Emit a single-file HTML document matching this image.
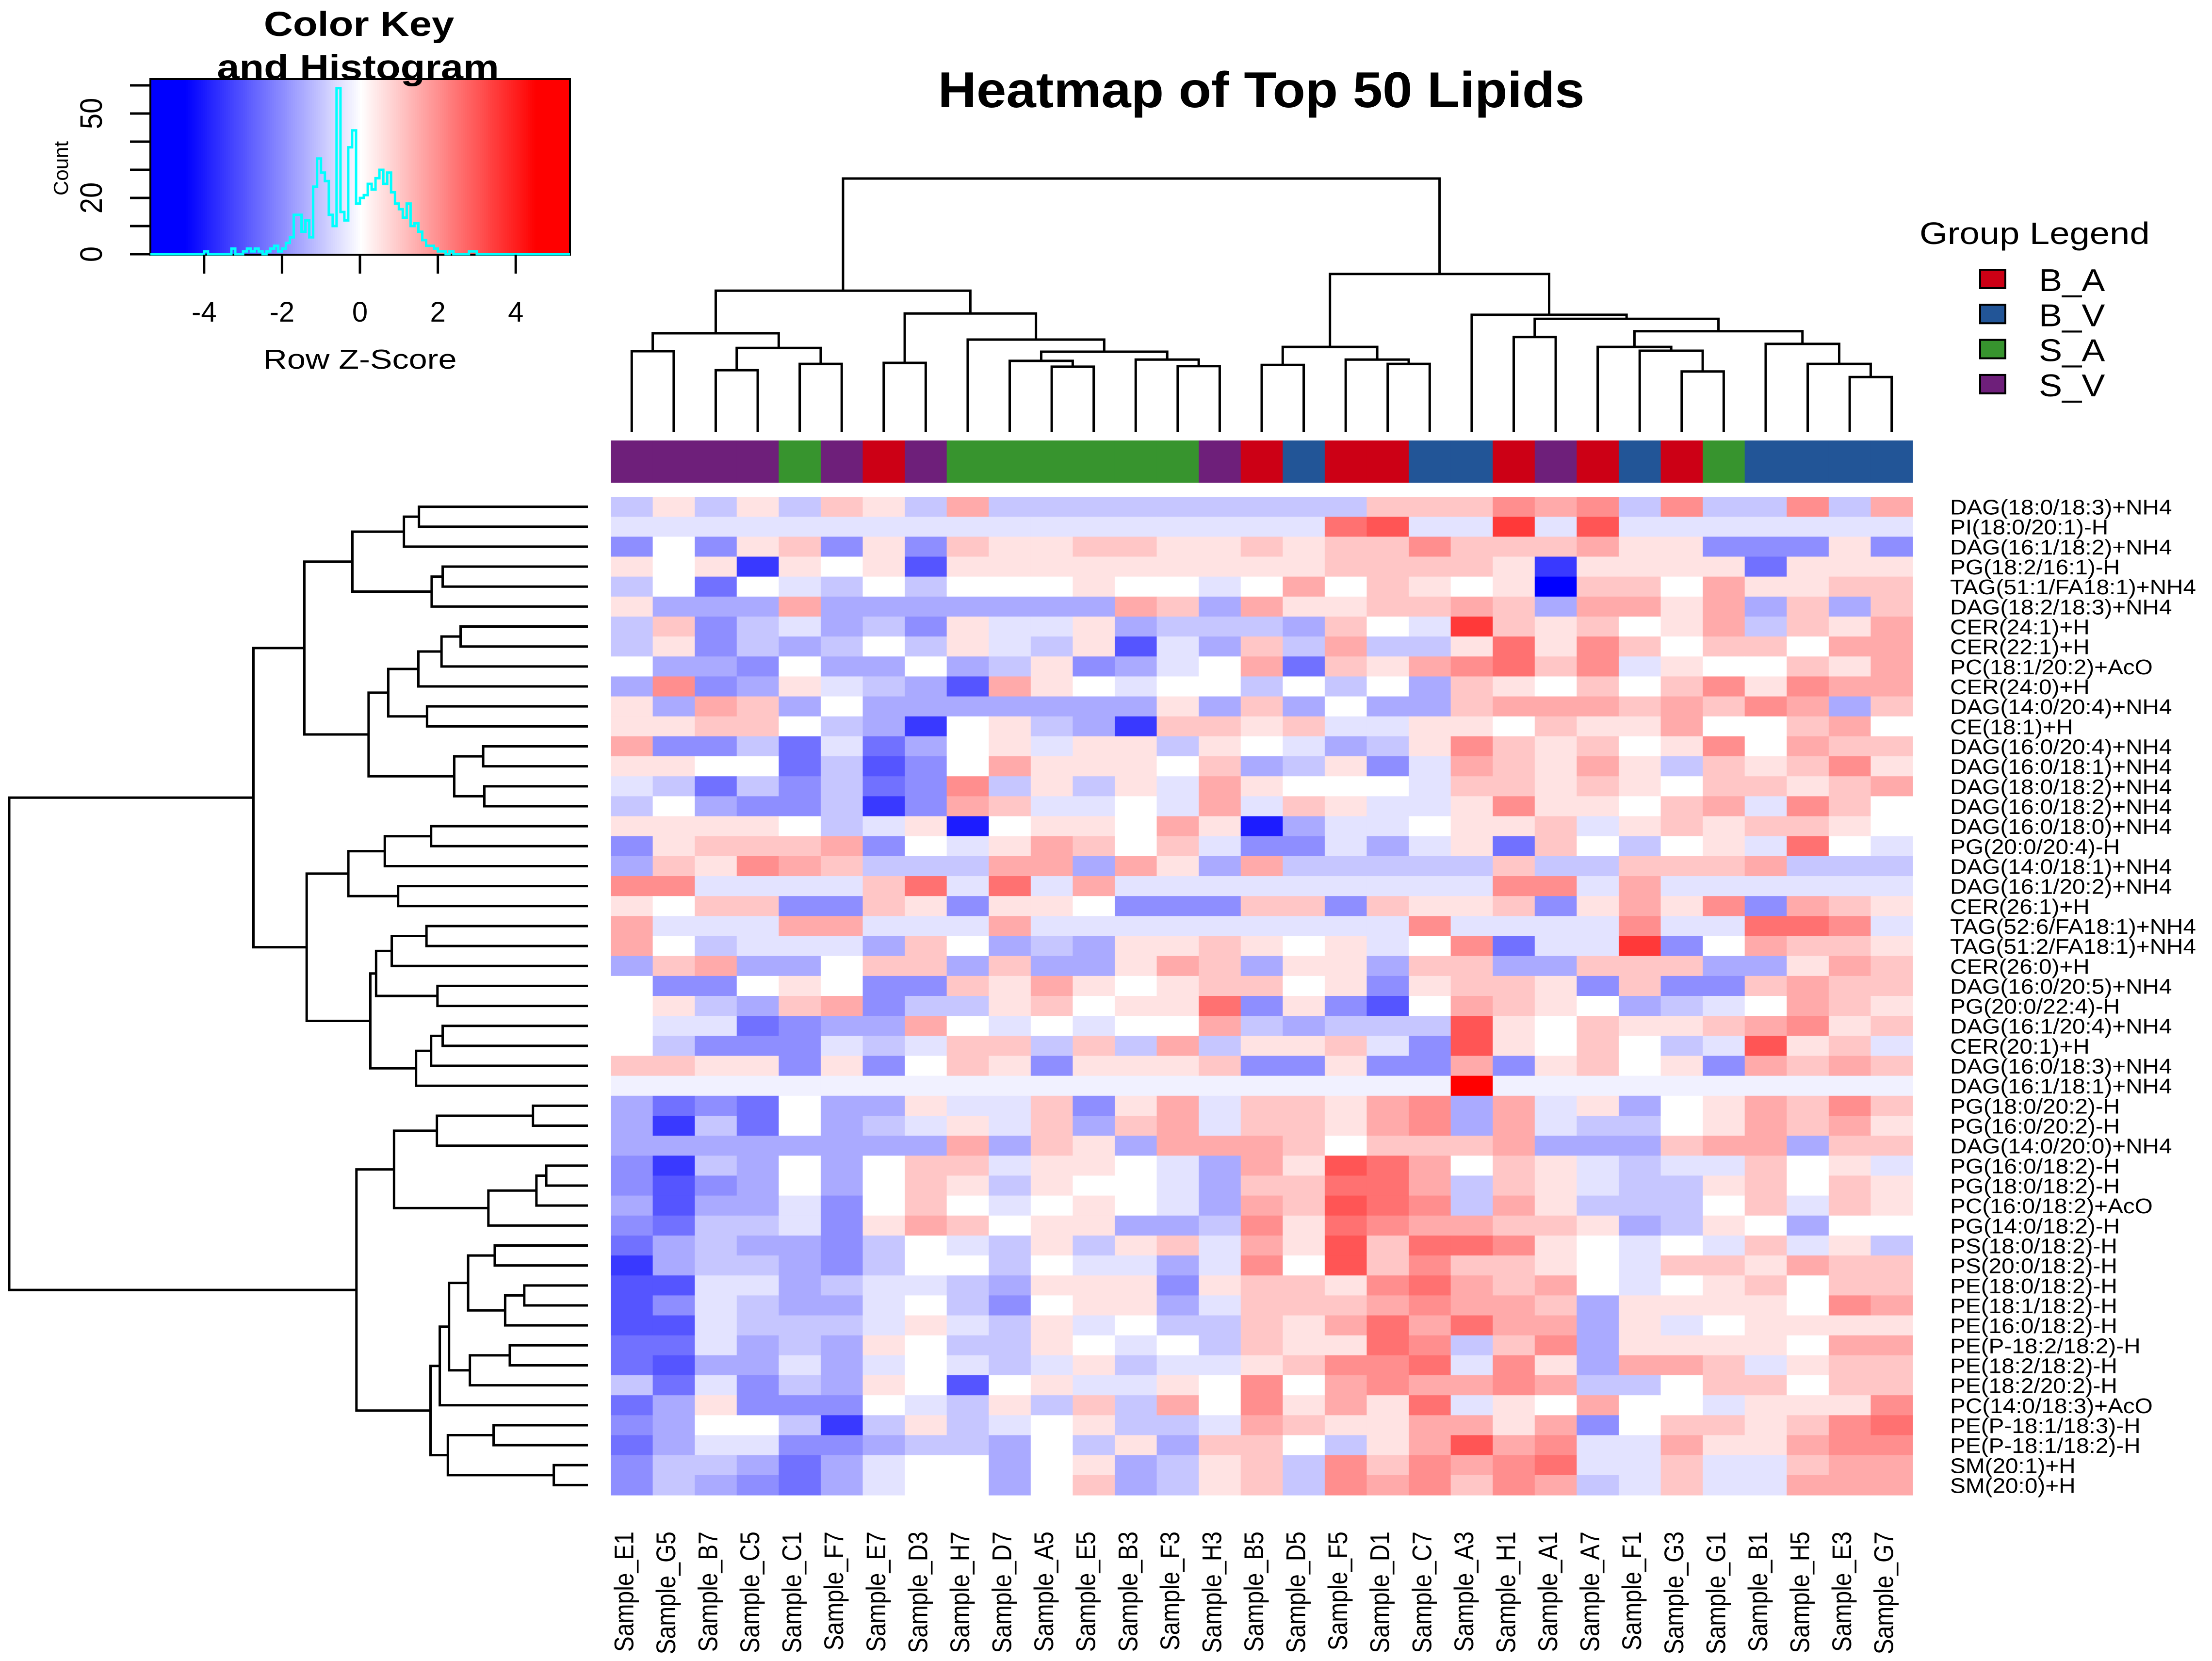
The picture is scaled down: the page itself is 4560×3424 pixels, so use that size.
<!DOCTYPE html>
<html><head><meta charset="utf-8"><title>Heatmap of Top 50 Lipids</title>
<style>html,body{margin:0;padding:0;background:#fff}svg{display:block}text{font-family:"Liberation Sans",Arial,sans-serif}</style>
</head><body>
<svg id="chart" xmlns="http://www.w3.org/2000/svg" width="4560" height="3424" viewBox="0 0 4560 3424">
<rect x="0" y="0" width="4560" height="3424" fill="#fff"/>
<g id="key"></g>
<text transform="translate(2600,221) scale(1.06,1)" text-anchor="middle" font-size="104" font-weight="bold">Heatmap of Top 50 Lipids</text>
<g id="coldendro"></g>
<g id="colbar"></g>
<g id="rowdendro"></g>
<g id="cells"></g>
<g id="rowlabels"></g>
<g id="collabels"></g>
<g id="legend"></g>
</svg>
<script>
const rowLabels=["DAG(18:0/18:3)+NH4","PI(18:0/20:1)-H","DAG(16:1/18:2)+NH4","PG(18:2/16:1)-H","TAG(51:1/FA18:1)+NH4","DAG(18:2/18:3)+NH4","CER(24:1)+H","CER(22:1)+H","PC(18:1/20:2)+AcO","CER(24:0)+H","DAG(14:0/20:4)+NH4","CE(18:1)+H","DAG(16:0/20:4)+NH4","DAG(16:0/18:1)+NH4","DAG(18:0/18:2)+NH4","DAG(16:0/18:2)+NH4","DAG(16:0/18:0)+NH4","PG(20:0/20:4)-H","DAG(14:0/18:1)+NH4","DAG(16:1/20:2)+NH4","CER(26:1)+H","TAG(52:6/FA18:1)+NH4","TAG(51:2/FA18:1)+NH4","CER(26:0)+H","DAG(16:0/20:5)+NH4","PG(20:0/22:4)-H","DAG(16:1/20:4)+NH4","CER(20:1)+H","DAG(16:0/18:3)+NH4","DAG(16:1/18:1)+NH4","PG(18:0/20:2)-H","PG(16:0/20:2)-H","DAG(14:0/20:0)+NH4","PG(16:0/18:2)-H","PG(18:0/18:2)-H","PC(16:0/18:2)+AcO","PG(14:0/18:2)-H","PS(18:0/18:2)-H","PS(20:0/18:2)-H","PE(18:0/18:2)-H","PE(18:1/18:2)-H","PE(16:0/18:2)-H","PE(P-18:2/18:2)-H","PE(18:2/18:2)-H","PE(18:2/20:2)-H","PC(14:0/18:3)+AcO","PE(P-18:1/18:3)-H","PE(P-18:1/18:2)-H","SM(20:1)+H","SM(20:0)+H"];
const colLabels=["Sample_E1","Sample_G5","Sample_B7","Sample_C5","Sample_C1","Sample_F7","Sample_E7","Sample_D3","Sample_H7","Sample_D7","Sample_A5","Sample_E5","Sample_B3","Sample_F3","Sample_H3","Sample_B5","Sample_D5","Sample_F5","Sample_D1","Sample_C7","Sample_A3","Sample_H1","Sample_A1","Sample_A7","Sample_F1","Sample_G3","Sample_G1","Sample_B1","Sample_H5","Sample_E3","Sample_G7"];
const colGroups=["S_V","S_V","S_V","S_V","S_A","S_V","B_A","S_V","S_A","S_A","S_A","S_A","S_A","S_A","S_V","B_A","B_V","B_A","B_A","B_V","B_V","B_A","S_V","B_A","B_V","B_A","S_A","B_V","B_V","B_V","B_V"];
const groupNames=["B_A","B_V","S_A","S_V"];
const groupColors=["#cc0015","#225597","#37942e","#6e1f7a"];
// heat levels: z-score = level * 0.5
const zLevels=[
[-2,1,-2,1,-2,2,1,-2,3,-2,-2,-2,-2,-2,-2,-2,-2,-2,2,2,2,4,3,4,-2,4,-2,-2,4,-2,3],
[-1,-1,-1,-1,-1,-1,-1,-1,-1,-1,-1,-1,-1,-1,-1,-1,-1,5,6,-1,-1,7,-1,6,-1,-1,-1,-1,-1,-1,-1],
[-4,0,-4,1,2,-4,1,-4,2,1,1,2,2,1,1,2,1,2,2,4,2,2,2,3,1,1,-4,-4,-4,1,-4],
[1,0,1,-7,1,0,1,-6,1,1,1,1,1,1,1,1,1,2,2,2,2,1,-7,1,1,1,1,-5,1,1,1],
[-2,0,-5,0,-1,-2,0,-2,0,0,0,1,0,0,-1,0,3,0,2,1,0,1,-9,2,2,0,3,1,1,2,2],
[1,-3,-3,-3,3,-3,-3,-3,-3,-3,-3,-3,3,2,-3,3,1,1,2,2,3,2,-3,3,3,1,3,-3,2,-3,2],
[-2,2,-4,-2,-1,-3,-2,-4,1,-1,-1,1,-3,-2,-2,-2,-3,2,0,-1,7,2,1,2,0,1,3,-2,2,1,3],
[-2,1,-4,-2,-3,-2,0,-2,1,-1,-2,1,-6,-1,-3,2,-2,3,-2,-2,1,5,1,4,2,0,2,2,0,3,3],
[0,-3,-3,-4,0,-3,-3,0,-3,-2,1,-4,-3,-1,0,3,-5,2,1,3,4,5,2,4,-1,1,0,0,2,1,3],
[-3,4,-4,-3,1,-1,-2,-3,-6,3,1,0,-1,0,0,-2,0,-2,0,-3,2,1,0,2,0,2,4,1,4,3,3],
[1,-3,3,2,-3,0,-3,-3,-3,-3,-3,-3,-3,1,-3,2,-3,0,-3,-3,2,3,3,3,2,3,2,4,3,-3,2],
[1,1,2,2,0,-2,-3,-7,0,1,-2,-3,-7,2,2,1,2,-1,-1,1,1,0,2,1,1,3,0,0,2,3,0],
[3,-4,-4,-2,-5,-1,-5,-3,0,1,-1,1,1,-2,1,0,-1,-3,-2,1,4,2,1,2,0,1,4,0,3,2,2],
[1,1,0,0,-5,-2,-6,-4,0,3,1,1,1,0,2,-3,-2,1,-4,-1,3,2,1,3,1,-2,2,1,2,4,1],
[-1,-2,-5,-2,-4,-2,-5,-4,4,-2,1,-2,1,-1,3,1,0,0,0,-1,2,2,1,2,1,0,2,2,1,2,3],
[-2,0,-3,-4,-4,-2,-7,-4,3,2,-1,-1,0,-1,3,-1,2,1,-1,-1,1,4,1,1,0,2,3,-1,4,2,0],
[1,1,1,1,0,-2,-1,1,-8,0,1,1,0,3,1,-8,-3,-1,-1,0,1,1,2,-1,1,2,1,2,2,1,0],
[-4,1,2,2,2,3,-4,0,-1,1,3,2,0,2,-1,-4,-4,-1,-3,-1,1,-5,2,0,-2,0,1,-1,5,0,-1],
[-3,2,1,4,3,2,-2,-2,-2,3,3,-3,3,1,-3,3,-2,-2,-2,-2,-2,2,-2,-2,2,2,2,3,-2,-2,-2],
[4,4,-1,-1,-1,-1,2,5,-1,5,-1,3,-1,-1,-1,-1,-1,-1,-1,-1,-1,4,4,-1,3,-1,-1,-1,-1,-1,-1],
[1,0,2,2,-4,-4,2,1,-4,1,1,0,-4,-4,-4,2,2,-4,2,1,1,2,-4,1,3,1,4,-4,3,2,1],
[3,-1,-1,-1,3,3,-1,-1,-1,3,-1,-1,-1,-1,-1,-1,-1,-1,-1,4,-1,-1,-1,-1,4,-1,-1,5,5,4,-1],
[3,0,-2,-1,-1,-1,-3,2,0,-3,-2,-3,1,1,2,1,0,1,-1,0,4,-5,-1,-1,7,-4,0,3,2,2,1],
[-3,2,3,-3,-3,0,2,2,-3,2,-3,-3,1,3,2,-3,1,1,-3,2,2,-3,-3,2,2,2,-3,-3,1,3,2],
[0,-4,-4,0,1,0,-4,-4,2,1,3,1,0,1,2,2,0,1,-4,1,2,2,1,-4,2,-4,-4,2,3,2,2],
[0,1,-2,-3,2,3,-4,-2,-2,1,2,0,1,1,5,-4,1,-4,-6,0,3,2,1,0,-3,-2,-1,0,3,2,1],
[0,-1,-1,-5,-4,-3,-3,3,0,-1,0,-1,0,0,3,-2,-3,-2,-2,-2,6,1,0,2,1,1,2,3,4,1,2],
[0,-2,-4,-4,-4,-1,-2,-1,2,2,-2,2,-2,3,-2,1,1,2,-1,-4,6,1,0,2,0,-2,-1,6,1,2,-1],
[2,2,1,1,-4,1,-4,0,2,1,-4,1,1,1,2,-4,-4,1,-4,-4,3,-4,1,2,0,1,-4,3,2,3,2],
[-0.5,-0.5,-0.5,-0.5,-0.5,-0.5,-0.5,-0.5,-0.5,-0.5,-0.5,-0.5,-0.5,-0.5,-0.5,-0.5,-0.5,-0.5,-0.5,-0.5,9,-0.5,-0.5,-0.5,-0.5,-0.5,-0.5,-0.5,-0.5,-0.5,-0.5],
[-3,-5,-4,-5,0,-3,-3,1,-1,-1,2,-4,1,3,-1,2,2,1,3,4,-3,3,-1,1,-3,0,1,3,2,4,2],
[-3,-7,-2,-5,0,-3,-2,-1,1,-1,2,-3,2,3,-1,2,2,1,3,4,-3,3,-1,-2,-2,0,1,3,2,3,1],
[-3,-3,-3,-3,-3,-3,-3,-3,3,-3,2,1,-3,3,3,3,2,0,2,2,2,3,-3,-3,-3,2,3,3,-3,2,2],
[-4,-7,-2,-3,0,-3,0,2,2,-1,1,1,0,-1,-3,3,1,6,5,3,0,2,1,-1,-2,-1,-1,2,0,1,-1],
[-4,-6,-4,-3,0,-3,0,2,1,-2,1,0,0,-1,-3,2,2,5,5,3,-2,2,1,-1,-2,-2,1,2,0,2,1],
[-3,-6,-3,-3,-1,-4,0,2,0,-1,0,1,0,-1,-3,3,2,6,5,4,-2,3,1,-2,-2,-2,0,2,-1,2,1],
[-4,-5,-2,-2,-1,-4,1,3,2,0,1,1,-3,-3,-2,4,1,5,4,3,3,2,2,1,-3,-2,1,0,-3,0,0],
[-5,-3,-2,-3,-3,-4,-2,0,-1,-2,1,-2,1,2,-1,3,1,6,2,5,5,4,1,0,-1,0,-1,2,-1,1,-2],
[-7,-3,-2,-2,-3,-4,-2,0,0,-2,0,-1,-1,-3,-1,4,0,6,2,4,2,2,1,0,-1,2,2,1,3,2,2],
[-6,-6,-1,-1,-3,-2,-1,-1,-2,-3,1,1,1,-4,1,2,2,1,4,5,3,2,3,0,-1,0,1,2,0,2,2],
[-6,-4,-1,-2,-3,-3,-1,0,-2,-4,0,1,1,-3,-1,2,2,2,3,4,3,3,2,-3,1,1,1,1,0,4,3],
[-6,-6,-1,-2,-2,-2,-1,1,-1,-2,1,-1,0,-2,-2,2,1,3,5,3,5,3,3,-3,1,-1,0,1,1,1,1],
[-5,-5,-1,-3,-2,-3,1,0,-2,-2,1,0,-1,0,-2,2,1,1,5,4,-2,2,4,-3,1,1,1,1,0,3,3],
[-5,-6,-3,-3,-1,-3,-1,0,-1,-2,-1,1,-2,-1,-1,1,2,4,4,5,-1,4,1,-3,3,3,2,-1,1,2,2],
[-2,-5,-1,-4,-2,-3,1,0,-6,0,1,-1,-1,1,0,4,0,3,4,3,3,4,3,-2,-2,0,2,2,0,2,2],
[-5,-3,1,-4,-4,-4,0,-1,-2,1,-2,2,-2,3,0,4,1,3,1,5,-1,1,0,3,0,0,-1,1,1,1,4],
[-4,-3,0,0,-2,-7,-2,1,-2,-1,0,1,-2,-2,-1,3,2,1,1,3,3,1,3,-4,0,2,2,1,2,4,5],
[-5,-3,-1,-1,-4,-4,-3,-2,-2,-3,0,-2,1,-3,2,2,0,-2,1,3,6,3,4,-1,-1,3,1,1,3,4,4],
[-4,-2,-2,-3,-5,-3,-1,0,0,-3,0,1,-3,-2,1,2,-2,4,2,4,3,4,5,-1,-1,2,-1,-1,2,3,3],
[-4,-2,-3,-4,-5,-3,-1,0,0,-3,0,2,-3,-2,1,2,-2,4,3,4,2,4,3,-2,-1,2,-1,-1,3,3,3]
];
// column merges: [a, b, height]; a/b < 100 are leaves, >=100 reference merge (index-100)
const colMerges=[[0,1,3.18],[2,3,2.43],[4,5,2.68],[101,102,3.31],[100,103,3.89],[6,7,2.72],[10,11,2.57],[9,106,2.80],[13,14,2.59],[12,108,2.85],[107,109,3.16],[8,110,3.64],[105,111,4.67],[104,112,5.57],[15,16,2.64],[18,19,2.68],[17,115,2.85],[114,116,3.35],[21,22,3.74],[25,26,2.38],[24,119,3.20],[23,120,3.35],[29,30,2.16],[28,122,2.68],[27,123,3.47],[121,124,3.97],[118,125,4.46],[20,126,4.62],[117,127,6.23],[113,128,10.0]];
const rowMerges=[[0,1,2.92],[100,2,3.18],[3,4,2.51],[102,5,2.70],[101,103,4.07],[6,7,2.20],[105,8,2.53],[106,9,2.93],[10,11,2.78],[107,108,3.45],[12,13,1.81],[14,15,1.79],[110,111,2.31],[109,112,3.79],[104,113,4.90],[16,17,2.71],[115,18,3.51],[19,20,3.28],[116,117,4.14],[21,22,2.79],[119,23,3.39],[24,25,2.60],[120,121,3.66],[26,27,2.51],[123,28,2.71],[124,29,2.97],[122,125,3.76],[118,126,4.86],[114,127,5.78],[30,31,0.95],[129,32,2.61],[33,34,0.72],[131,35,0.89],[132,36,1.72],[130,133,3.35],[37,38,1.61],[39,40,1.10],[136,41,1.43],[135,137,2.07],[42,43,1.35],[139,44,2.04],[138,140,2.40],[141,45,2.56],[46,47,1.63],[48,49,0.59],[143,144,2.42],[142,145,2.72],[134,146,4.00],[128,147,10.0]];
const histStart=-4.0, histStep=0.1;
const histCounts=[1,0,0,0,0,0,0,2,0,0,1,2,1,2,1,0,1,2,3,1,2,4,6,14,14,8,12,6,24,34,29,26,14,10,59,15,12,38,44,18,20,21,25,23,27,30,25,29,22,18,16,13,18,10,11,8,5,3,3,2,1,1,0,1,0,0,0,0,1,1];
const keyTicks=[-4,-2,0,2,4];
const countTicks=[0,10,20,30,40,50,60];
const countLabels=[0,20,50];

const NS="http://www.w3.org/2000/svg";
function mk(tag,attrs,parent){const e=document.createElementNS(NS,tag);for(const k in attrs)e.setAttribute(k,attrs[k]);parent.appendChild(e);return e;}
const HX0=1259,HX1=3943,HY0=1024,HY1=3082;
const nC=colLabels.length,nR=rowLabels.length;
const CW=(HX1-HX0)/nC,RH=(HY1-HY0)/nR;
const xCol=i=>HX0+i*CW, yRow=i=>HY0+i*RH;
function heatColor(level){const z=level*0.5;const t=Math.min(1,Math.abs(z)/4.5);const c=Math.round(255*(1-t));return z<0?`rgb(${c},${c},255)`:`rgb(255,${c},${c})`;}

// cells
const cellsG=document.getElementById('cells');
zLevels.forEach((row,r)=>row.forEach((v,c)=>{
  const e=mk('rect',{x:xCol(c).toFixed(2),y:yRow(r).toFixed(2),width:(CW+0.6).toFixed(2),height:(RH+0.6).toFixed(2),fill:heatColor(v)},cellsG);
  
  
}));
// group bar
const barG=document.getElementById('colbar');
colGroups.forEach((g,c)=>{
  const e=mk('rect',{x:xCol(c).toFixed(2),y:908,width:(CW+0.6).toFixed(2),height:87,fill:groupColors[groupNames.indexOf(g)]},barG);
  
  
});
// row labels
const rlG=document.getElementById('rowlabels');
rowLabels.forEach((t,r)=>{
  const e=mk('text',{transform:`translate(4020,${(yRow(r)+RH/2+16).toFixed(1)}) scale(1.085,1)`,'font-size':44},rlG);
  e.textContent=t;
  
  
});
// col labels
const clG=document.getElementById('collabels');
colLabels.forEach((t,c)=>{
  const e=mk('text',{transform:`translate(${(xCol(c)+CW/2+3).toFixed(1)},3157) rotate(-90) scale(1,1.16)`,'font-size':48,'text-anchor':'end'},clG);
  e.textContent=t;
  
  
});
// dendrograms
function drawDendro(merges,n,parent,leafPos,hToCoord,vertical){
  const pos=[],hgt=[];
  const P=id=>id<100?leafPos(id):pos[id-100];
  const H=id=>id<100?0:hgt[id-100];
  merges.forEach((m,k)=>{
    const [a,b,h]=m;
    const pa=P(a),pb=P(b),ha=hToCoord(H(a)),hb=hToCoord(H(b)),hm=hToCoord(h);
    pos[k]=(pa+pb)/2;hgt[k]=h;
    const d=vertical?`M${pa},${ha}V${hm}H${pb}V${hb}`:`M${ha},${pa}H${hm}V${pb}H${hb}`;
    const e=mk('path',{d:d,fill:'none',stroke:'#000','stroke-width':5,'stroke-linecap':'butt','stroke-linejoin':'miter'},parent);
    
    
  });
}
drawDendro(colMerges,nC,document.getElementById('coldendro'),i=>xCol(i)+CW/2,h=>890-h*52.2,true);
drawDendro(rowMerges,nR,document.getElementById('rowdendro'),i=>yRow(i)+RH/2,h=>1212-h*119.3,false);

// legend
const lg=document.getElementById('legend');
let lt=mk('text',{transform:'translate(3957,503) scale(1.16,1)','font-size':64},lg);
lt.textContent='Group Legend';


groupNames.forEach((g,i)=>{
  const y=556+i*72.3;
  const sw=mk('rect',{x:4082,y:y,width:52,height:38,fill:groupColors[i],stroke:'#000','stroke-width':4},lg);
  
  
  const tx=mk('text',{transform:`translate(4203,${(y+44).toFixed(1)}) scale(1.11,1)`,'font-size':65},lg);
  tx.textContent=g;
  
  
});

// color key
const kg=document.getElementById('key');
const KX0=310,KX1=1175,KY0=163,KY1=525;
const kx=z=>742+80.3*z, ky=c=>524-5.8*c;
const zMin=(KX0-742)/80.3, zMax=(KX1-742)/80.3;
for(let i=0;i<200;i++){
  const z0=zMin+(zMax-zMin)*i/200;
  const e=mk('rect',{x:kx(z0).toFixed(2),y:KY0,width:((KX1-KX0)/200+0.8).toFixed(2),height:KY1-KY0,fill:heatColor(z0*2)},kg);
  
  
}
let bx=mk('rect',{x:KX0,y:KY0,width:KX1-KX0,height:KY1-KY0,fill:'none',stroke:'#000','stroke-width':4},kg);


// histogram
let d=`M${KX0},${ky(0)}H${kx(histStart)}`;
histCounts.forEach((c,i)=>{const z=histStart+i*histStep;d+=`V${ky(c).toFixed(1)}H${kx(z+histStep).toFixed(1)}`;});
d+=`V${ky(0)}H${KX1}`;
let hp=mk('path',{d:d,fill:'none',stroke:'#00ffff','stroke-width':5},kg);


keyTicks.forEach(t=>{
  const l=mk('line',{x1:kx(t),x2:kx(t),y1:KY1,y2:564,stroke:'#000','stroke-width':5},kg);
  
  
  const tx=mk('text',{x:kx(t),y:663,'font-size':58,'text-anchor':'middle'},kg);
  tx.textContent=String(t);
  
  
});
countTicks.forEach(c=>{
  const l=mk('line',{x1:268,x2:KX0,y1:ky(c),y2:ky(c),stroke:'#000','stroke-width':5},kg);
  
  
});
countLabels.forEach(c=>{
  const tx=mk('text',{transform:`translate(210,${ky(c)}) rotate(-90) scale(1,1.1)`,'font-size':58,'text-anchor':'middle'},kg);
  tx.textContent=String(c);
  
  
});
let ct=mk('text',{transform:'translate(140,347) rotate(-90)','font-size':42,'text-anchor':'middle'},kg);
ct.textContent='Count';


let xt=mk('text',{transform:'translate(742,760) scale(1.2,1)','font-size':57,'text-anchor':'middle'},kg);
xt.textContent='Row Z-Score';


let k1=mk('text',{transform:'translate(740,74) scale(1.17,1)','font-size':71,'font-weight':'bold','text-anchor':'middle'},kg);
k1.textContent='Color Key';


let k2=mk('text',{transform:'translate(738,163) scale(1.17,1)','font-size':71,'font-weight':'bold','text-anchor':'middle'},kg);
k2.textContent='and Histogram';


</script>
</body></html>
